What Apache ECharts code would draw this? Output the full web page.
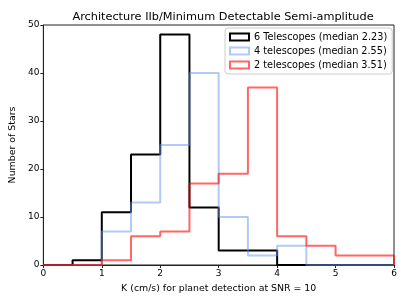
<!DOCTYPE html>
<html><head><meta charset="utf-8">
<script src="https://cdn.jsdelivr.net/npm/echarts@6/dist/echarts.min.js"></script>
<style>html,body{margin:0;padding:0;background:#fff}#c{width:407px;height:305px}</style>
</head><body><div id="c"></div>
<script>
var binEdges = [0, 0.5, 1, 1.5, 2, 2.5, 3, 3.5, 4, 4.5, 5, 5.5, 6];
var counts6 = [0, 1, 11, 23, 48, 12, 3, 3, 0, 0, 0, 0];
var counts4 = [0, 0, 7, 13, 25, 40, 10, 2, 4, 0, 0, 0];
var counts2 = [0, 0, 1, 6, 7, 17, 19, 37, 6, 4, 2, 2];
var seriesNames = ['6 Telescopes (median 2.23)', '4 telescopes (median 2.55)', '2 telescopes (median 3.51)'];
var xTicks = [0, 1, 2, 3, 4, 5, 6];
var yTicks = [0, 10, 20, 30, 40, 50];

var colors = ['#000000', 'rgba(100,149,237,0.5)', 'rgba(255,0,0,0.6)'];

function stepData(counts) {
  var d = [];
  for (var i = 0; i < counts.length; i++) d.push([binEdges[i], counts[i]]);
  var last = binEdges[binEdges.length - 1];
  d.push([last, counts[counts.length - 1]]);
  d.push([last, 0]);
  return d;
}

var allCounts = [counts6, counts4, counts2];
var series = allCounts.map(function (c, k) {
  return {
    name: seriesNames[k], type: 'line', step: 'end', data: stepData(c),
    showSymbol: false, symbol: 'none', animation: false,
    lineStyle: { color: colors[k], width: 2 },
    itemStyle: { color: colors[k] }, z: 2 + k
  };
});

var chart = echarts.init(document.getElementById('c'), null, { renderer: 'canvas' });
chart.setOption({
  backgroundColor: '#fff',
  animation: false,
  textStyle: { fontFamily: 'DejaVu Sans' },
  title: {
    text: 'Architecture IIb/Minimum Detectable Semi-amplitude',
    left: 218, top: 7, textAlign: 'center',
    textStyle: { fontSize: 11.3, fontWeight: 'normal', color: '#000', fontFamily: 'DejaVu Sans' }
  },
  grid: { left: 42, right: 13, top: 25, bottom: 40, show: true, borderColor: '#222', borderWidth: 1 },
  legend: {
    orient: 'vertical', left: 225, top: 28,
    backgroundColor: 'rgba(255,255,255,0.8)', borderColor: '#ccc', borderWidth: 1, borderRadius: 3,
    padding: [4, 5, 4, 4], itemGap: 4, itemWidth: 19, itemHeight: 7,
    textStyle: { fontSize: 9.7, color: '#000', fontFamily: 'DejaVu Sans' },
    data: seriesNames.map(function (n, k) {
      return { name: n, icon: 'rect', itemStyle: { color: '#fff', borderColor: colors[k], borderWidth: 2 } };
    })
  },
  xAxis: {
    type: 'value', min: xTicks[0], max: xTicks[xTicks.length - 1], interval: 1,
    name: 'K (cm/s) for planet detection at SNR = 10', nameLocation: 'middle', nameGap: 19,
    nameTextStyle: { fontSize: 9.4, color: '#000' },
    axisLine: { lineStyle: { color: '#222', width: 1 } },
    axisTick: { show: true, length: 3, lineStyle: { color: '#222' } },
    axisLabel: { fontSize: 9, color: '#000', margin: 4 },
    splitLine: { show: false }
  },
  yAxis: {
    type: 'value', min: yTicks[0], max: yTicks[yTicks.length - 1], interval: 10,
    name: 'Number of Stars', nameLocation: 'middle', nameGap: 26, nameRotate: 90,
    nameTextStyle: { fontSize: 9.4, color: '#000' },
    axisLine: { show: true, lineStyle: { color: '#222', width: 1 } },
    axisTick: { show: true, length: 3, lineStyle: { color: '#222' } },
    axisLabel: { fontSize: 9, color: '#000', margin: 4 },
    splitLine: { show: false }
  },
  series: series
});
</script>
</body></html>
